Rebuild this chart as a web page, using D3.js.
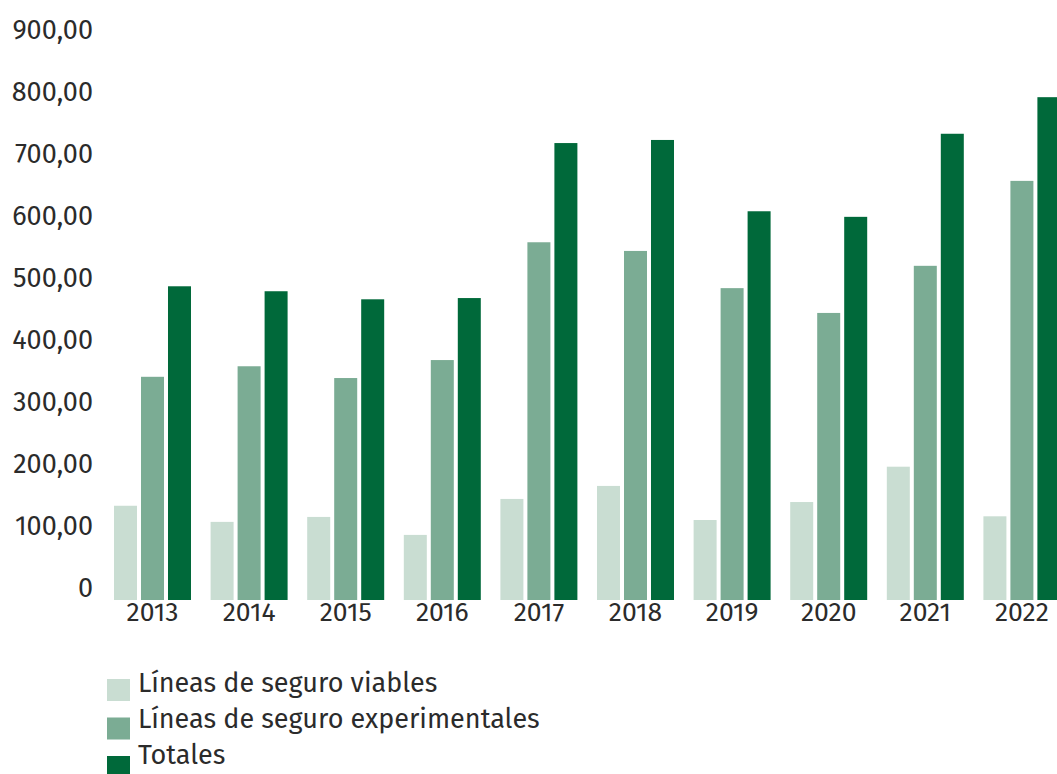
<!DOCTYPE html>
<html>
<head>
<meta charset="utf-8">
<script src="https://cdn.jsdelivr.net/npm/d3@7"></script>
<style>
  html, body { margin: 0; padding: 0; background: #fff; }
  svg { display: block; }
  text { font-family: "Fira Sans", "Open Sans", "Noto Sans", sans-serif; fill: #2b2b2b; }
</style>
</head>
<body>
<svg id="chart" width="1057" height="774"></svg>
<script>
const years = ["2013","2014","2015","2016","2017","2018","2019","2020","2021","2022"];
const viables = [152, 126, 134, 105, 163, 184, 129, 158, 215, 135];
const experimentales = [360, 377, 358, 387, 577, 563, 503, 463, 539, 676];
const totales = [506, 498, 485, 487, 737, 742, 627, 618, 752, 811];
const seriesNames = ["Líneas de seguro viables", "Líneas de seguro experimentales", "Totales"];
const seriesColors = ["#c9ddd2", "#7bac94", "#00693a"];
const yTicks = [0, 100, 200, 300, 400, 500, 600, 700, 800, 900];

const seriesValues = [viables, experimentales, totales];
const data = years.map((y, i) => ({ year: y, values: seriesValues.map(s => s[i]) }));

const svg = d3.select("#chart");
const FONT = "\"Fira Sans\", \"Open Sans\", \"Noto Sans\", sans-serif";

const x0 = d3.scaleBand().domain(years).range([114, 1060.4]).paddingInner(0.203).paddingOuter(0);
const x1 = d3.scaleBand().domain(d3.range(3)).range([0, x0.bandwidth()]).paddingInner(0.148);
const y = d3.scaleLinear().domain([0, 900]).range([600, 42]);

// y axis labels
const yFmt = v => v === 0 ? "0" : d3.format(".2f")(v).replace(".", ",");
const yAxis = d3.axisLeft(y).tickValues(yTicks).tickFormat(yFmt).tickSize(0).tickPadding(0);
const gy = svg.append("g").attr("transform", "translate(93,-12)").call(yAxis);
gy.select(".domain").remove();
gy.selectAll("text").style("font-size", "27px").attr("fill", "#2b2b2b").style("font-family", FONT);

// x axis labels
const xAxis = d3.axisBottom(x0).tickSize(0).tickPadding(0);
const gx = svg.append("g").attr("transform", "translate(0,602)").call(xAxis);
gx.select(".domain").remove();
gx.selectAll("text").style("font-size", "26.5px").attr("fill", "#2b2b2b").style("font-family", FONT);

// bars
const groups = svg.append("g").selectAll("g").data(data).join("g")
  .attr("transform", d => `translate(${x0(d.year)},0)`);
groups.selectAll("rect").data(d => d.values.map((v, k) => ({ k, v }))).join("rect")
  .attr("x", d => x1(d.k))
  .attr("width", x1.bandwidth())
  .attr("y", d => y(d.v))
  .attr("height", d => y(0) - y(d.v))
  .attr("fill", d => seriesColors[d.k]);

// legend
const legend = svg.append("g").attr("transform", "translate(107,0)");
const li = legend.selectAll("g").data(seriesNames).join("g");
li.append("rect").attr("x", 0).attr("y", (d, i) => 679 + i * 38.5).attr("width", 23).attr("height", 22)
  .attr("fill", (d, i) => seriesColors[i]);
li.append("text").attr("x", 31).attr("y", (d, i) => 692 + i * 36).text(d => d)
  .style("font-size", "27px").style("font-family", FONT);
</script>
</body>
</html>
